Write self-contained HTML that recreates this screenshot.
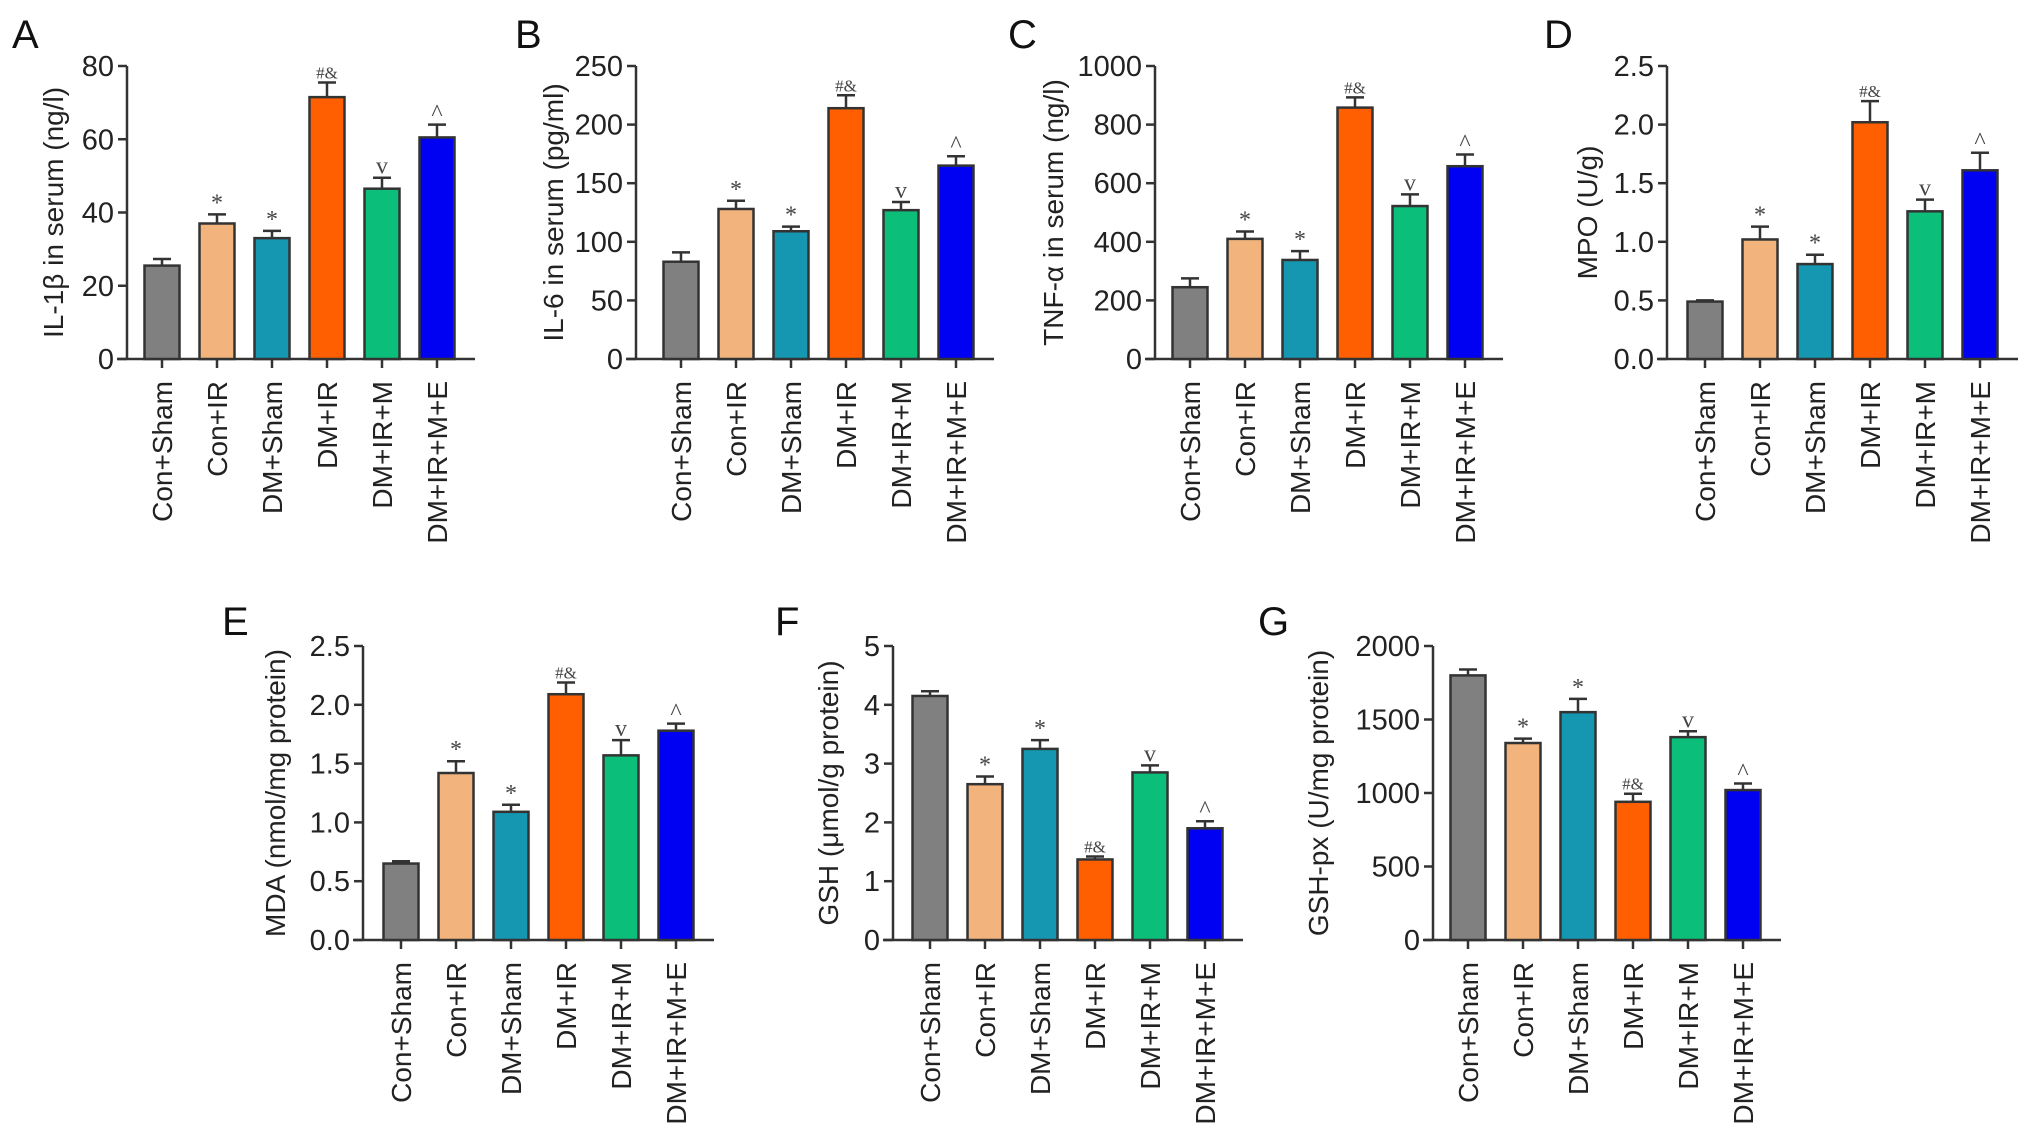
<!DOCTYPE html>
<html><head><meta charset="utf-8"><style>
html,body{margin:0;padding:0;background:#fff;}
svg{display:block;font-family:"Liberation Sans",sans-serif;}
</style></head><body>
<svg id="fig" width="2032" height="1135" viewBox="0 0 2032 1135" xmlns="http://www.w3.org/2000/svg"></svg>
<script>
const categories = ["Con+Sham","Con+IR","DM+Sham","DM+IR","DM+IR+M","DM+IR+M+E"];
const colors = ["#808080","#F2B47C","#1597B1","#FF5F00","#0BBF7B","#0000F2"];
const valsA = [25.5,37,33,71.5,46.5,60.5];
const errA = [1.8,2.5,2,4,3,3.5];
const valsB = [83,128,109,214,127,165];
const errB = [8,7,4,11,7,8];
const valsC = [245,410,338,858,522,658];
const errC = [30,25,30,35,40,40];
const valsD = [0.49,1.02,0.81,2.02,1.26,1.61];
const errD = [0.01,0.11,0.08,0.18,0.1,0.15];
const valsE = [0.65,1.42,1.09,2.09,1.57,1.78];
const errE = [0.02,0.1,0.06,0.1,0.13,0.06];
const valsF = [4.15,2.65,3.25,1.37,2.85,1.9];
const errF = [0.08,0.13,0.15,0.05,0.12,0.12];
const valsG = [1800,1340,1550,940,1380,1020];
const errG = [40,30,90,55,40,45];
const marksUp = ["","*","*","#&","v","^"];
const ticksA = ["0","20","40","60","80"];
const ticksB = ["0","50","100","150","200","250"];
const ticksC = ["0","200","400","600","800","1000"];
const ticksD = ["0.0","0.5","1.0","1.5","2.0","2.5"];
const ticksE = ["0.0","0.5","1.0","1.5","2.0","2.5"];
const ticksF = ["0","1","2","3","4","5"];
const ticksG = ["0","500","1000","1500","2000"];

const T0=66, Z0=359, T1=646, Z1=940;
const panels = [
 {id:"a",letter:"A",lx:12,ly:48,ax:127,x0:162,top:T0,zero:Z0,max:80,ticks:ticksA,vals:valsA,err:errA,title:"IL-1β in serum (ng/l)",tx:53},
 {id:"b",letter:"B",lx:515,ly:48,ax:636,x0:681,top:T0,zero:Z0,max:250,ticks:ticksB,vals:valsB,err:errB,title:"IL-6 in serum (pg/ml)",tx:553},
 {id:"c",letter:"C",lx:1008,ly:48,ax:1155,x0:1190,top:T0,zero:Z0,max:1000,ticks:ticksC,vals:valsC,err:errC,title:"TNF-α in serum (ng/l)",tx:1053},
 {id:"d",letter:"D",lx:1544,ly:48,ax:1667,x0:1705,top:T0,zero:Z0,max:2.5,ticks:ticksD,vals:valsD,err:errD,title:"MPO (U/g)",tx:1587},
 {id:"e",letter:"E",lx:222,ly:635,ax:363,x0:401,top:T1,zero:Z1,max:2.5,ticks:ticksE,vals:valsE,err:errE,title:"MDA (nmol/mg protein)",tx:275},
 {id:"f",letter:"F",lx:775,ly:635,ax:893,x0:930,top:T1,zero:Z1,max:5,ticks:ticksF,vals:valsF,err:errF,title:"GSH (μmol/g protein)",tx:828},
 {id:"g",letter:"G",lx:1258,ly:635,ax:1433,x0:1468,top:T1,zero:Z1,max:2000,ticks:ticksG,vals:valsG,err:errG,title:"GSH-px (U/mg protein)",tx:1318}
];
const svg = document.getElementById('fig');
const NS = "http://www.w3.org/2000/svg";
function mk(tag, attrs, parent){const e=document.createElementNS(NS,tag);for(const k in attrs)e.setAttribute(k,attrs[k]);parent.appendChild(e);return e;}
const step = 55;
const bw = 35;
panels.forEach(p=>{
  const g = mk('g',{},svg);
  
  
  const y = v => p.zero - v/p.max*(p.zero-p.top);
  const x = i => p.x0 + i*step;
  const L = mk('text',{x:p.lx,y:p.ly,'font-size':40,fill:'#111'},g); L.textContent=p.letter;
  
  
  const axisColor='#333';
  const ya = mk('line',{x1:p.ax,y1:p.top,x2:p.ax,y2:p.zero,stroke:axisColor,'stroke-width':2.5},g);
  
  
  const xa = mk('line',{x1:p.ax-10,y1:p.zero,x2:x(5)+38,y2:p.zero,stroke:axisColor,'stroke-width':2.5},g);
  
  
  const n = p.ticks.length;
  p.ticks.forEach((t,k)=>{
    const v = p.max*k/(n-1);
    const yy = y(v);
    mk('line',{x1:p.ax-9,y1:yy,x2:p.ax,y2:yy,stroke:axisColor,'stroke-width':2.5},g);
    const tt = mk('text',{x:p.ax-13,y:yy+10,'font-size':29,'text-anchor':'end',fill:'#222'},g);
    tt.textContent=t;
    
    
  });
  const ti = mk('text',{x:0,y:0,'font-size':28,'text-anchor':'middle',fill:'#222',transform:`translate(${p.tx+10},${(p.top+p.zero)/2}) rotate(-90)`},g);
  ti.textContent=p.title;
  
  
  p.vals.forEach((v,i)=>{
    const cx = x(i), top = y(v), et = y(v+p.err[i]);
    mk('line',{x1:cx,y1:top,x2:cx,y2:et,stroke:axisColor,'stroke-width':2.5},g);
    mk('line',{x1:cx-9,y1:et,x2:cx+9,y2:et,stroke:axisColor,'stroke-width':2.5},g);
    const r = mk('rect',{x:cx-bw/2,y:top,width:bw,height:p.zero-top,fill:colors[i],stroke:'#333','stroke-width':2.5},g);
    
    
    mk('line',{x1:cx,y1:p.zero,x2:cx,y2:p.zero+9,stroke:axisColor,'stroke-width':2.5},g);
    if(marksUp[i]){
      const small = marksUp[i]==="#&";
      const m = mk('text',{x:cx,y:et-4,'font-size':small?17:24,'text-anchor':'middle',fill:'#444','font-family':'"Liberation Serif",serif'},g);
      m.textContent = marksUp[i];
      
      
    }
    const xl = mk('text',{x:0,y:0,'font-size':28,'text-anchor':'end',fill:'#222',transform:`translate(${cx+10},${p.zero+22}) rotate(-90)`},g);
    xl.textContent = categories[i];
    
    
  });
});
</script>
</body></html>
